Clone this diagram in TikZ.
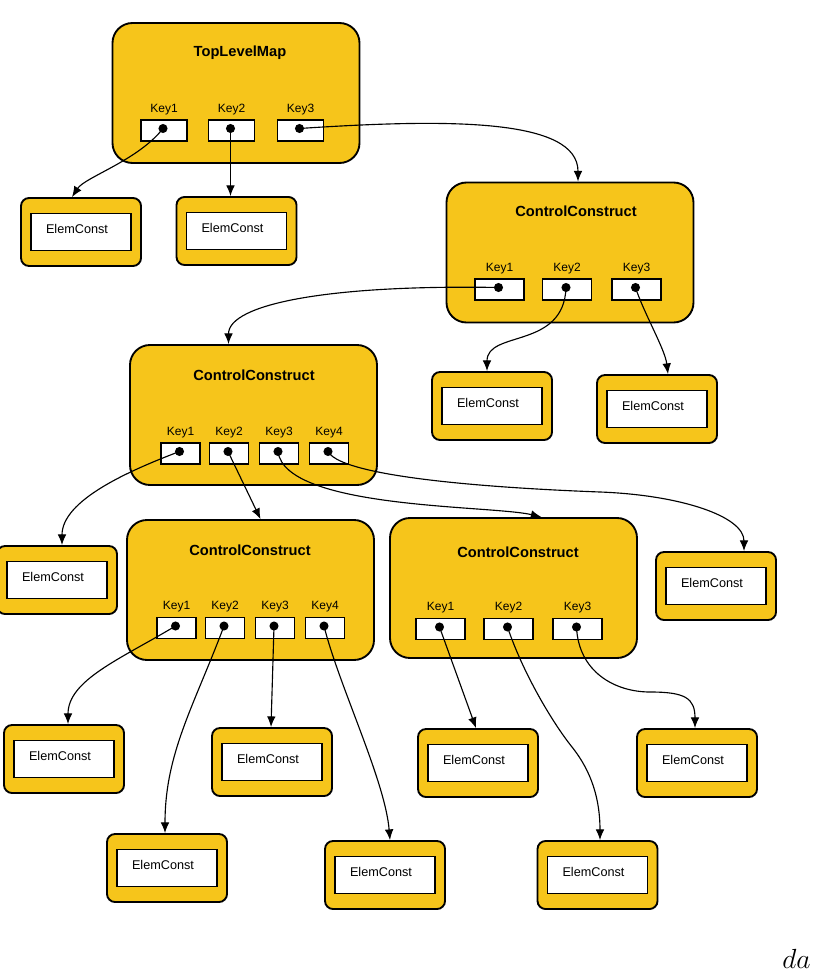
\documentclass[tikz,border=0pt]{standalone}
\usepackage{fontspec}
\setmainfont{Liberation Sans}
\usetikzlibrary{arrows.meta,calc}
\definecolor{gold}{RGB}{246,197,27}
\tikzset{
  bigbox/.style={draw=black, line width=1.4pt, fill=gold, rounded corners=15pt,
    minimum width=185.25pt, minimum height=105pt, inner sep=0pt},
  titletext/.style={font=\fontsize{11}{13}\selectfont\bfseries, inner sep=0pt},
  keybox/.style={draw=black, line width=1.1pt, fill=white, minimum height=15.5pt, inner sep=0pt},
  kw46/.style={minimum width=34.5pt},
  kw49/.style={minimum width=36.75pt},
  kw39/.style={minimum width=29.5pt},
  keylabel/.style={font=\fontsize{9}{10}\selectfont, inner sep=0pt},
  keydot/.style={circle, fill=black, minimum size=6.8pt, inner sep=0pt},
  ecout/.style={draw=black, line width=1.4pt, fill=gold, rounded corners=6pt,
    minimum width=90pt, minimum height=51pt, inner sep=0pt},
  ecin/.style={draw=black, line width=1.2pt, fill=white,
    minimum width=75pt, minimum height=27.75pt, inner sep=0pt},
  ectext/.style={font=\fontsize{9.5}{11}\selectfont, inner sep=0pt},
  conn/.style={line width=0.85pt, -{Latex[length=8pt,width=6.5pt]}}
}
\newcommand\keyslot[5]{%
  \node[keybox,#5] (#1) at (#2,#3) {};
  \node[keylabel] (#1-l) at ($(#1.north)+(0,-10)$) {#4};
  \node[keydot] (#1-d) at ($(#1.center)+(-1,-2)$) {};
}
\newcommand\elemc[2]{%
  \node[ecout] (#1) at (#2) {};
  \node[ecin] (#1-in) at (#1.center) {};
  \node[ectext] (#1-t) at ($(#1.center)+(-4,-3)$) {ElemConst};
}
\begin{document}
\begin{tikzpicture}[x=0.75pt,y=-0.75pt]
\useasboundingbox (0,0) rectangle (815,973);

% TopLevelMap
\node[bigbox] (tlm) at (236,93) {};
\node[titletext] (tlm-t) at (240,53) {TopLevelMap};
\keyslot{tlm1}{164}{130.5}{Key1}{kw46}
\keyslot{tlm2}{231.5}{130.5}{Key2}{kw46}
\keyslot{tlm3}{300.5}{130.5}{Key3}{kw46}

% ControlConstruct 1
\node[bigbox] (cc1) at (570,252.5) {};
\node[titletext] (cc1-t) at (576,211) {ControlConstruct};
\keyslot{cc1a}{499.5}{289.5}{Key1}{kw49}
\keyslot{cc1b}{567}{289.5}{Key2}{kw49}
\keyslot{cc1c}{636.5}{289.5}{Key3}{kw49}

% ControlConstruct 2
\node[bigbox] (cc2) at (253.5,415) {};
\node[titletext] (cc2-t) at (254,375) {ControlConstruct};
\keyslot{cc2a}{180.5}{453.5}{Key1}{kw39}
\keyslot{cc2b}{229}{453.5}{Key2}{kw39}
\keyslot{cc2c}{279}{453.5}{Key3}{kw39}
\keyslot{cc2d}{329}{453.5}{Key4}{kw39}

% ControlConstruct 3
\node[bigbox] (cc3) at (250.5,590) {};
\node[titletext] (cc3-t) at (250,550) {ControlConstruct};
\keyslot{cc3a}{176.5}{628}{Key1}{kw39}
\keyslot{cc3b}{225}{628}{Key2}{kw39}
\keyslot{cc3c}{275}{628}{Key3}{kw39}
\keyslot{cc3d}{325}{628}{Key4}{kw39}

% ControlConstruct 4
\node[bigbox] (cc4) at (513.5,588) {};
\node[titletext] (cc4-t) at (518,552) {ControlConstruct};
\keyslot{cc4a}{440.5}{629}{Key1}{kw49}
\keyslot{cc4b}{508.5}{629}{Key2}{kw49}
\keyslot{cc4c}{577.5}{629}{Key3}{kw49}

% ElemConst boxes
\elemc{ec1}{81,232}
\elemc{ec2}{236.5,231}
\elemc{ec3}{492,406}
\elemc{ec4}{657,409}
\elemc{ec5}{57,580}
\elemc{ec6}{716,586}
\elemc{ec7}{64,759}
\elemc{ec8}{272,762}
\elemc{ec9}{478,763}
\elemc{ec10}{697,763}
\elemc{ec11}{167,868}
\elemc{ec12}{385,875}
\elemc{ec13}{597.5,875}

% connectors
\draw[conn] (tlm1-d.center) .. controls +(-25,32) and +(13,-20) .. ($(ec1.north)+(-9,0)$);
\draw[conn] (tlm2-d.center) -- (tlm2-d.center |- ec2.north);
\draw[conn] (tlm3-d.center) .. controls +(151,-10) and +(0,-63) .. ($(cc1.north)+(8,0)$);
\draw[conn] (cc1a-d.center) .. controls +(-170,-3) and +(0,-40) .. ($(cc2.north)+(-25,0)$);
\draw[conn] (cc1b-d.center) .. controls +(-2,62) and +(0,-41) .. ($(ec3.north)+(-5,0)$);
\draw[conn] (cc1c-d.center) .. controls +(8,25) and +(-3,-25) .. ($(ec4.north)+(11,0)$);
\draw[conn] (cc2a-d.center) .. controls +(-50,19) and +(0,-45) .. ($(ec5.north)+(5,0)$);
\draw[conn] (cc2b-d.center) -- ($(cc3.north)+(10,0)$);
\draw[conn] (cc2c-d.center) .. controls +(7,58) and +(-50,-12) .. ($(cc4.north)+(28,0)$);
\draw[conn] (cc2d-d.center) .. controls +(15,28) and +(-80,-3) .. (600,492)
  .. controls +(80,3) and +(0,-35) .. ($(ec6.north)+(28,0)$);
\draw[conn] (cc3a-d.center) .. controls +(-55,33) and +(0,-44) .. ($(ec7.north)+(4,0)$);
\draw[conn] (cc3b-d.center) .. controls +(-30,80) and +(0,-80) .. ($(ec11.north)+(-2,0)$);
\draw[conn] (cc3c-d.center) -- ($(ec8.north)+(-1,0)$);
\draw[conn] (cc3d-d.center) .. controls +(15,60) and +(-5,-60) .. ($(ec12.north)+(5,0)$);
\draw[conn] (cc4a-d.center) -- ($(ec9.north)+(-2,0)$);
\draw[conn] (cc4b-d.center) .. controls +(15,45) and +(-20,-25) .. (572,747)
  .. controls +(20,25) and +(0,-40) .. ($(ec13.north)+(2.5,0)$);
\draw[conn] (cc4c-d.center) .. controls +(2,45) and +(-35,0) .. (650,692)
  .. controls +(35,0) and +(0,-30) .. ($(ec10.north)+(-2,0)$);

% stray text at the bottom right
\node[anchor=base west, inner sep=0pt, font=\fontsize{20}{22}\selectfont] (da) at (782,968) {$da$};
\end{tikzpicture}
\end{document}
